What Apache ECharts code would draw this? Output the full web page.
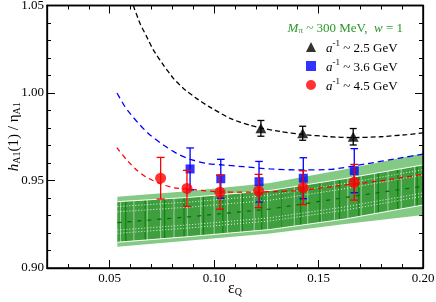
<!DOCTYPE html>
<html><head><meta charset="utf-8">
<script src="https://cdn.jsdelivr.net/npm/echarts@6/dist/echarts.min.js"></script>
<style>html,body{margin:0;padding:0;background:#fff}#c{width:436px;height:302px}</style>
</head><body><div id="c"></div>
<script>
// ---- axis ranges & tick values ----
const xRange = [0.02, 0.20];
const yRange = [0.90, 1.05];
const xMajorTicks = [0.05, 0.10, 0.15];
const xTickLabels = [0.05, 0.10, 0.15, 0.20];
const xMinorTicks = [0.03,0.04,0.06,0.07,0.08,0.09,0.11,0.12,0.13,0.14,0.16,0.17,0.18,0.19];

// ---- data points ----
const blackX = [0.1224, 0.1424, 0.1666];
const blackY = [0.9798, 0.9770, 0.9750];
const blackErr = [0.0045, 0.0040, 0.0047];
const blueX = [0.0885, 0.1032, 0.1215, 0.1427, 0.1671];
const blueY = [0.9566, 0.9510, 0.9493, 0.9513, 0.9556];
const blueErr = [0.0120, 0.0111, 0.0116, 0.0117, 0.0126];
const redX = [0.0744, 0.0870, 0.1028, 0.1213, 0.1426, 0.1671];
const redY = [0.9513, 0.9455, 0.9433, 0.9440, 0.9459, 0.9490];
const redErr = [0.0119, 0.0103, 0.0097, 0.0095, 0.0096, 0.0102];

// ---- fit curves ----
const blackCurveX = [0.0613,0.0645,0.0677,0.0709,0.0757,0.0805,0.0852,0.0917,0.0972,0.1076,0.1172,0.1224,0.1316,0.1424,0.1555,0.1665,0.1794,0.1922,0.2000];
const blackCurveY = [1.0500,1.0398,1.0322,1.0246,1.0160,1.0084,1.0027,0.9968,0.9925,0.9855,0.9815,0.9800,0.9780,0.9763,0.9750,0.9745,0.9750,0.9762,0.9772];
const blueCurveX = [0.0535,0.0573,0.0597,0.0645,0.0693,0.0757,0.0821,0.0885,0.0964,0.1028,0.1140,0.1268,0.1402,0.1563,0.1722,0.1882,0.2000];
const blueCurveY = [1.0000,0.9922,0.9884,0.9817,0.9760,0.9703,0.9655,0.9621,0.9597,0.9590,0.9579,0.9566,0.9560,0.9564,0.9594,0.9627,0.9651];
const redCurveX = [0.0534,0.0582,0.0629,0.0677,0.0741,0.0805,0.0917,0.1012,0.1140,0.1268,0.1403,0.1563,0.1722,0.1882,0.2000];
const redCurveY = [0.9688,0.9617,0.9560,0.9518,0.9482,0.9459,0.9446,0.9436,0.9433,0.9436,0.9442,0.9465,0.9487,0.9513,0.9535];

// ---- band ----
const bandX = [0.0537, 0.0885, 0.1268, 0.1627, 0.2000];
const bandOuterTop = [0.9407, 0.9440, 0.9486, 0.9564, 0.9655];
const bandInnerTop = [0.9379, 0.9404, 0.9443, 0.9511, 0.9589];
const bandInnerBot = [0.9147, 0.9180, 0.9220, 0.9280, 0.9360];
const bandOuterBot = [0.9122, 0.9157, 0.9197, 0.9251, 0.9303];
const bandCenter = [0.9259, 0.9293, 0.9337, 0.9403, 0.9467];

const legendNames = ['a^-1 ~ 2.5 GeV', 'a^-1 ~ 3.6 GeV', 'a^-1 ~ 4.5 GeV'];

const FONT = 'Liberation Serif';
const chart = echarts.init(document.getElementById('c'), null, {renderer: 'canvas'});

function pairs(xs, ys) { return xs.map((x, i) => [x, ys[i]]); }
function interp(xs, ys, x) {
  for (let i = 0; i < xs.length - 1; i++) {
    if (x <= xs[i + 1]) { const t = (x - xs[i]) / (xs[i + 1] - xs[i]); return ys[i] + t * (ys[i + 1] - ys[i]); }
  }
  return ys[ys.length - 1];
}
function bandPoly(api, top, bot) {
  const pts = [];
  bandX.forEach((x, i) => pts.push(api.coord([x, top[i]])));
  for (let i = bandX.length - 1; i >= 0; i--) pts.push(api.coord([bandX[i], bot[i]]));
  return pts;
}

function errSeries(name, xs, ys, es, color, cap, z) {
  return {
    type: 'custom', name, z, xAxisIndex: 0, yAxisIndex: 0,
    data: xs.map((x, i) => [x, ys[i], es[i]]),
    encode: {x: 0, y: 1},
    renderItem: (p, api) => {
      const x = api.value(0), y = api.value(1), e = api.value(2);
      const a = api.coord([x, y + e]), b = api.coord([x, y - e]);
      const st = {stroke: color, lineWidth: 1.3};
      return {type: 'group', children: [
        {type: 'line', shape: {x1: a[0], y1: a[1], x2: b[0], y2: b[1]}, style: st},
        {type: 'line', shape: {x1: a[0] - cap, y1: a[1], x2: a[0] + cap, y2: a[1]}, style: st},
        {type: 'line', shape: {x1: b[0] - cap, y1: b[1], x2: b[0] + cap, y2: b[1]}, style: st}
      ]};
    }
  };
}
function curve(name, xs, ys, color, dash, z) {
  return {type: 'line', name, z, xAxisIndex: 0, yAxisIndex: 0, data: pairs(xs, ys),
    showSymbol: false, smooth: 0.2, silent: true,
    lineStyle: {color, width: 1.3, type: dash}};
}

const axisLineStyle = {color: '#000', width: 1.3};
const tickLine = {color: '#000', width: 1};
const gridBox = {left: 47, top: 5.5, width: 376, height: 262.5, containLabel: false, outerBoundsMode: 'none'};

const option = {
  animation: false,
  backgroundColor: '#fff',
  grid: [Object.assign({}, gridBox), Object.assign({}, gridBox)],
  xAxis: [
    {gridIndex: 0, type: 'value', min: xRange[0], max: xRange[1], interval: 0.01, position: 'bottom',
     axisLine: {show: true, onZero: false, lineStyle: axisLineStyle},
     axisTick: {show: true, inside: true, length: 8, customValues: xMajorTicks, lineStyle: tickLine},
     axisLabel: {show: true, customValues: xTickLabels, formatter: v => v.toFixed(2), margin: 4,
                 color: '#000', fontFamily: FONT, fontSize: 13},
     splitLine: {show: false},
     name: '{e|ε}{sub|Q}', nameLocation: 'middle', nameGap: 11, nameMoveOverlap: false,
     nameTextStyle: {color: '#000', fontFamily: FONT, fontSize: 15, lineHeight: 18, verticalAlign: 'top',
       rich: {e: {fontFamily: FONT, fontSize: 16, lineHeight: 18, verticalAlign: 'bottom', color: '#000'},
              sub: {fontFamily: FONT, fontSize: 10, lineHeight: 8, verticalAlign: 'bottom', color: '#000'}}}},
    {gridIndex: 0, type: 'value', min: xRange[0], max: xRange[1], interval: 0.01, position: 'top',
     axisLine: {show: true, onZero: false, lineStyle: axisLineStyle},
     axisTick: {show: true, inside: true, length: 8, customValues: xMajorTicks, lineStyle: tickLine},
     axisLabel: {show: false}, splitLine: {show: false}},
    {gridIndex: 1, type: 'value', min: xRange[0], max: xRange[1], interval: 0.01, position: 'bottom',
     axisLine: {show: false, onZero: false},
     axisTick: {show: true, inside: true, length: 4, customValues: xMinorTicks, lineStyle: tickLine},
     axisLabel: {show: false}, splitLine: {show: false}},
    {gridIndex: 1, type: 'value', min: xRange[0], max: xRange[1], interval: 0.01, position: 'top',
     axisLine: {show: false, onZero: false},
     axisTick: {show: true, inside: true, length: 4, customValues: xMinorTicks, lineStyle: tickLine},
     axisLabel: {show: false}, splitLine: {show: false}}
  ],
  yAxis: [
    {gridIndex: 0, type: 'value', min: yRange[0], max: yRange[1], interval: 0.05, position: 'left',
     axisLine: {show: true, onZero: false, lineStyle: axisLineStyle},
     axisTick: {show: true, inside: true, length: 8, lineStyle: tickLine},
     minorTick: {show: true, splitNumber: 5, length: 4, lineStyle: tickLine},
     axisLabel: {formatter: v => v.toFixed(2), margin: 3, color: '#000', fontFamily: FONT, fontSize: 13},
     splitLine: {show: false}, minorSplitLine: {show: false},
     name: '{i|h}{sub|A1}{n|(1) / η}{sub|A1}', nameLocation: 'middle', nameGap: 25, nameRotate: 90, nameMoveOverlap: false,
     nameTextStyle: {color: '#000', fontFamily: FONT, fontSize: 15, lineHeight: 18,
       rich: {i: {fontFamily: FONT, fontStyle: 'italic', fontSize: 15, lineHeight: 18, verticalAlign: 'bottom', color: '#000'},
              n: {fontFamily: FONT, fontSize: 15, lineHeight: 18, verticalAlign: 'bottom', color: '#000'},
              sub: {fontFamily: FONT, fontSize: 10, lineHeight: 8, verticalAlign: 'bottom', color: '#000'}}}},
    {gridIndex: 0, type: 'value', min: yRange[0], max: yRange[1], interval: 0.05, position: 'right',
     axisLine: {show: true, onZero: false, lineStyle: axisLineStyle},
     axisTick: {show: true, inside: true, length: 8, lineStyle: tickLine},
     minorTick: {show: true, splitNumber: 5, length: 4, lineStyle: tickLine},
     axisLabel: {show: false}, splitLine: {show: false}},
    {gridIndex: 1, type: 'value', min: yRange[0], max: yRange[1], interval: 0.05, show: false}
  ],
  legend: {
    left: 306, top: 39, orient: 'vertical', itemWidth: 10, itemHeight: 10, itemGap: 3, padding: 0,
    selectedMode: false,
    data: [{name: legendNames[0], icon: 'triangle'}, {name: legendNames[1], icon: 'rect'}, {name: legendNames[2], icon: 'circle'}],
    formatter: n => n.replace('a^-1', '{i|a}{sup|-1}').replace(/(~ .*)$/, '{n|$1}'),
    textStyle: {fontFamily: FONT, fontSize: 13, color: '#000', lineHeight: 16, padding: [0, 0, 0, 5],
      rich: {i: {fontFamily: FONT, fontStyle: 'italic', fontSize: 13, lineHeight: 16, verticalAlign: 'bottom', color: '#000'},
             n: {fontFamily: FONT, fontSize: 13, lineHeight: 16, verticalAlign: 'bottom', color: '#000'},
             sup: {fontFamily: FONT, fontSize: 9, lineHeight: 9, verticalAlign: 'top', color: '#000'}}}
  },
  graphic: [{
    type: 'text', id: 'mpi', x: 403, y: 27, z: 100,
    style: {text: '{i|M}{sub|π}{n| ~ 300 MeV,  }{i|w}{n| = 1}', align: 'right', verticalAlign: 'middle',
      fill: '#2a962a', font: '13px "Liberation Serif"', lineHeight: 16,
      rich: {i: {fontFamily: FONT, fontStyle: 'italic', fontSize: 13, lineHeight: 16, verticalAlign: 'bottom', fill: '#2a962a'},
             n: {fontFamily: FONT, fontSize: 13, lineHeight: 16, verticalAlign: 'bottom', fill: '#2a962a'},
             sub: {fontFamily: FONT, fontSize: 9, lineHeight: 7, verticalAlign: 'bottom', fill: '#2a962a'}}}
  }],
  series: [
    {type: 'custom', name: 'band', z: 1, xAxisIndex: 0, yAxisIndex: 0, silent: true,
     data: [[bandX[0], bandOuterTop[0]]],
     renderItem: (p, api) => {
       const ch = [];
       ch.push({type: 'polygon', shape: {points: bandPoly(api, bandOuterTop, bandOuterBot)}, style: {fill: '#84ca84'}});
       ch.push({type: 'polygon', shape: {points: bandPoly(api, bandInnerTop, bandInnerBot)}, style: {fill: '#3f9f3f'}});
       for (let x = bandX[0] + 0.0015; x < 0.2; x += 0.0064) {
         const t = api.coord([x, interp(bandX, bandInnerTop, x)]), b = api.coord([x, interp(bandX, bandInnerBot, x)]);
         ch.push({type: 'line', shape: {x1: t[0], y1: t[1], x2: b[0], y2: b[1]}, style: {stroke: 'rgba(255,255,255,0.5)', lineWidth: 1}});
       }
       for (let x = bandX[0] + 0.004; x < 0.2; x += 0.0093) {
         const t = api.coord([x, interp(bandX, bandInnerTop, x)]), b = api.coord([x, interp(bandX, bandInnerBot, x)]);
         ch.push({type: 'line', shape: {x1: t[0], y1: t[1], x2: b[0], y2: b[1]}, style: {stroke: '#0f850f', lineWidth: 1.3}});
       }
       [0, 0.12, 0.25, 0.70, 0.78, 1].forEach(f => {
         const pts = bandX.map((x, i) => api.coord([x, bandInnerTop[i] + f * (bandInnerBot[i] - bandInnerTop[i])]));
         const solid = (f === 0 || f === 1);
         ch.push({type: 'polyline', shape: {points: pts},
           style: {stroke: solid ? '#ffffff' : 'rgba(255,255,255,0.85)', lineWidth: 1, lineDash: solid ? null : [1, 2], fill: null}});
       });
       return {type: 'group', children: ch};
     }},
    {type: 'line', name: 'center', z: 2, xAxisIndex: 0, yAxisIndex: 0, data: pairs(bandX, bandCenter),
     showSymbol: false, silent: true, lineStyle: {color: '#0a6a0a', width: 1.2, type: [4, 6]}},
    curve('fitBlack', blackCurveX, blackCurveY, '#000000', [5, 3], 3),
    curve('fitBlue', blueCurveX, blueCurveY, '#0000ff', [6, 4], 3),
    curve('fitRed', redCurveX, redCurveY, '#ff0000', [5, 4], 3),
    errSeries('errBlue', blueX, blueY, blueErr, '#0000ff', 3.8, 4),
    {type: 'scatter', name: legendNames[1], z: 5, xAxisIndex: 0, yAxisIndex: 0, data: pairs(blueX, blueY),
     symbol: 'rect', symbolSize: 9, itemStyle: {color: '#0000ff'}},
    errSeries('errRed', redX, redY, redErr, '#ff0000', 4, 6),
    {type: 'scatter', name: legendNames[2], z: 7, xAxisIndex: 0, yAxisIndex: 0, data: pairs(redX, redY),
     symbol: 'circle', symbolSize: 11, itemStyle: {color: '#ff0000'}},
    errSeries('errBlack', blackX, blackY, blackErr, '#000000', 3.5, 6),
    {type: 'scatter', name: legendNames[0], z: 7, xAxisIndex: 0, yAxisIndex: 0, data: pairs(blackX, blackY),
     symbol: 'triangle', symbolSize: [11, 10], itemStyle: {color: '#000000'}}
  ]
};
chart.setOption(option);

// plot frame, placed from the axis extents converted by the chart itself
const p0 = chart.convertToPixel({xAxisIndex: 0, yAxisIndex: 0}, [xRange[0], yRange[1]]);
const p1 = chart.convertToPixel({xAxisIndex: 0, yAxisIndex: 0}, [xRange[1], yRange[0]]);
chart.setOption({graphic: [{
  type: 'rect', id: 'frame', z: 200, silent: true,
  shape: {x: p0[0], y: p0[1], width: p1[0] - p0[0], height: p1[1] - p0[1]},
  style: {fill: 'none', stroke: '#000000', lineWidth: 1.5}
}]});
</script>
</body></html>
